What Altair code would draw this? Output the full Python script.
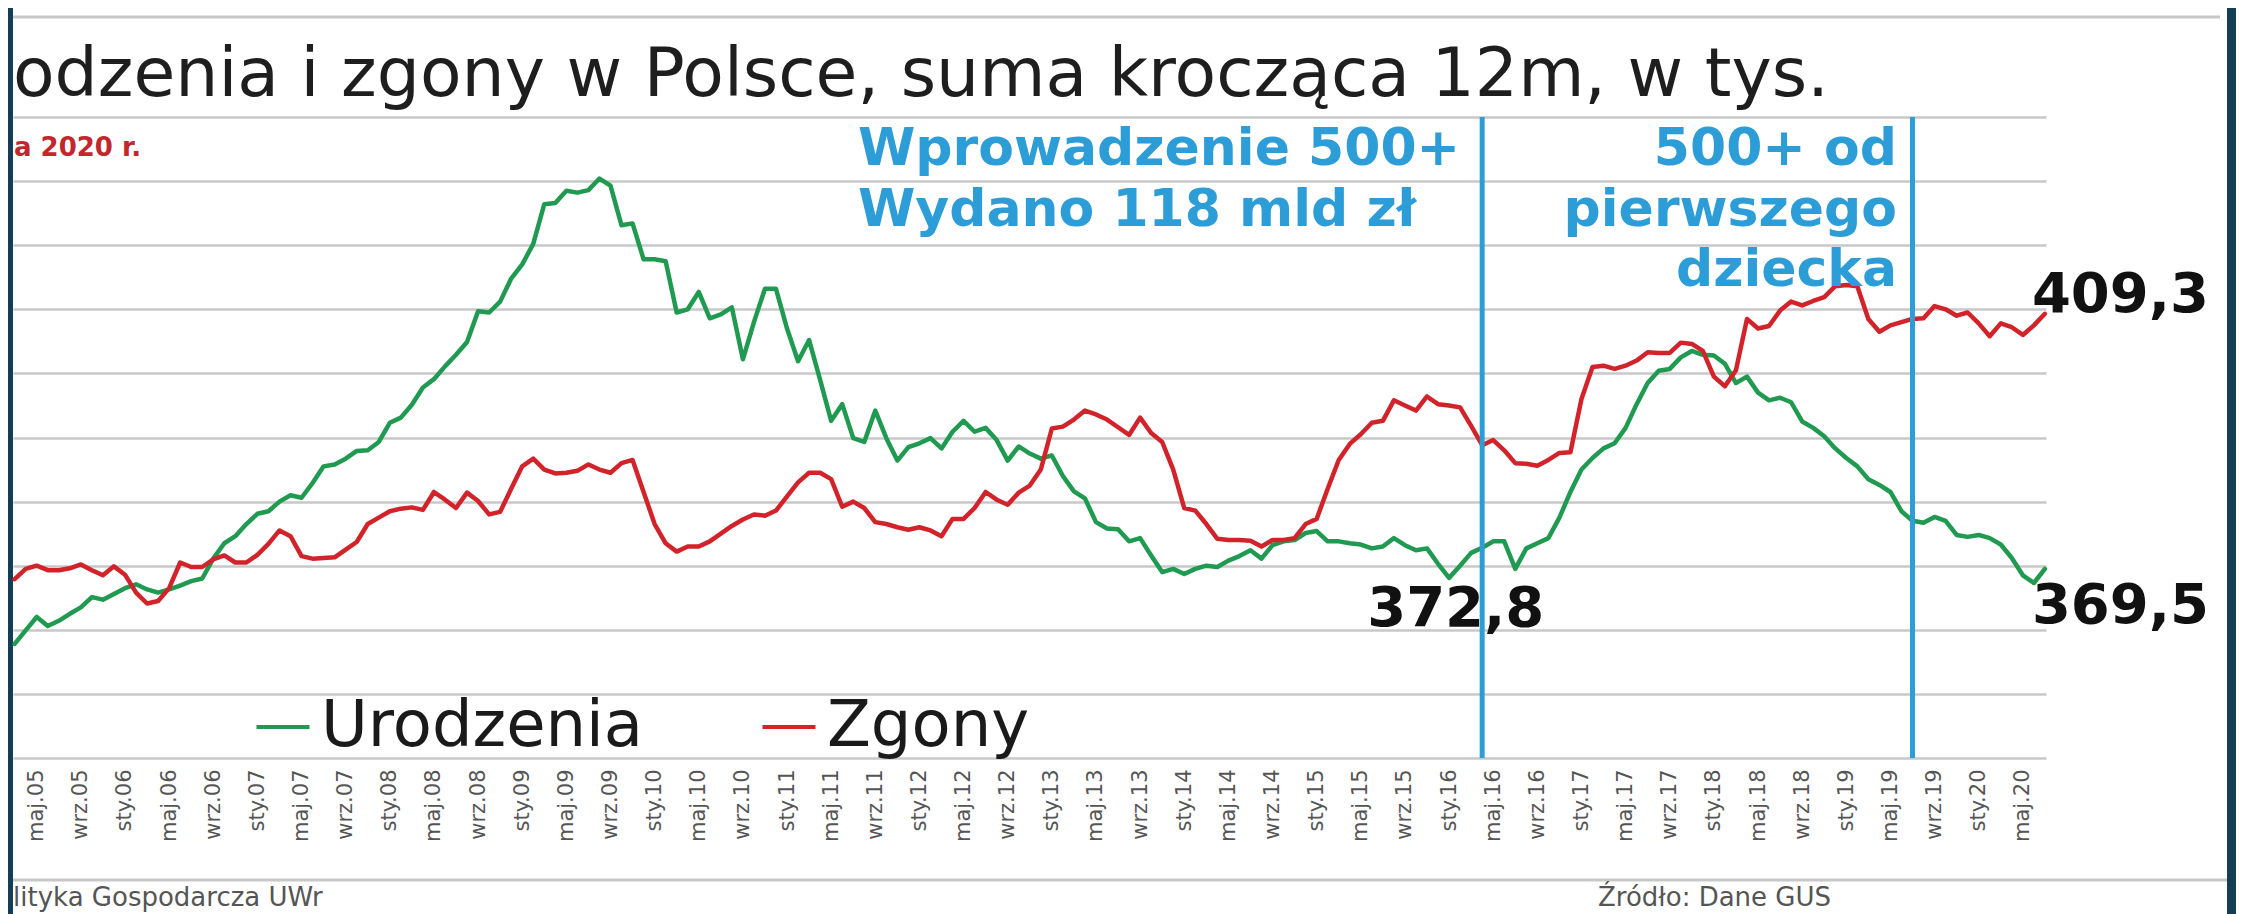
import json
import altair as alt
import pandas as pd

# ---------------- data ----------------
# month index: 0 = maj 2005; the series run from mar 2005 (-2) to lip 2020 (182)
months = list(range(-2, 183))

urodzenia = [
    357.8, 359.9, 362.0, 360.6, 361.4, 362.5, 363.5, 365.1, 364.7, 365.6, 366.5, 367.1,
    366.3, 365.8, 366.3, 366.9, 367.6, 368.0, 371.1, 373.5, 374.6, 376.5, 378.1, 378.5,
    380.0, 381.0, 380.6, 382.9, 385.5, 385.8, 386.7, 387.9, 388.0, 389.3, 392.3, 393.1,
    395.1, 397.8, 399.1, 401.1, 402.9, 404.9, 409.7, 409.5, 411.2, 414.8, 417.0, 420.2,
    426.4, 426.6, 428.5, 428.2, 428.6, 430.4, 429.3, 423.1, 423.4, 417.8, 417.8, 417.5,
    409.5, 410.0, 412.7, 408.6, 409.2, 410.3, 402.2, 408.0, 413.2, 413.2, 407.0, 401.9,
    405.2, 399.0, 392.6, 395.2, 389.9, 389.3, 394.2, 389.9, 386.4, 388.5, 389.1, 389.9,
    388.3, 390.9, 392.6, 390.9, 391.5, 389.6, 386.4, 388.6, 387.5, 386.7, 387.2, 384.0,
    381.6, 380.5, 376.8, 375.8, 375.7, 373.8, 374.3, 371.6, 369.0, 369.5, 368.7, 369.5,
    370.0, 369.8, 370.8, 371.5, 372.4, 371.1, 373.2, 373.8, 374.0, 375.1, 375.4, 373.8,
    373.8, 373.5, 373.3, 372.7, 373.0, 374.3, 373.2, 372.4, 372.7, 370.3, 368.1, 370.0,
    372.0, 372.8, 373.8, 373.8, 369.5, 372.7, 373.5, 374.3, 377.5, 381.5, 385.0, 386.8,
    388.3, 389.1, 391.5, 395.2, 398.5, 400.4, 400.7, 402.5, 403.5, 402.9, 402.8, 401.5,
    398.5, 399.5, 397.0, 395.8, 396.2, 395.5, 392.5, 391.5, 390.2, 388.3, 386.8, 385.5,
    383.5, 382.6, 381.5, 378.5, 377.0, 376.7, 377.6, 377.0, 374.8, 374.5, 374.8, 374.3,
    373.3, 371.2, 368.5, 367.3, 369.5,
]

zgony = [
    367.9, 369.5, 370.0, 369.3, 369.3, 369.6, 370.2, 369.3, 368.5, 369.9, 368.6, 365.8,
    364.1, 364.5, 366.5, 370.5, 369.8, 369.8, 371.0, 371.6, 370.5, 370.5, 371.7, 373.4,
    375.5, 374.6, 371.5, 371.1, 371.2, 371.3, 372.5, 373.7, 376.5, 377.5, 378.5, 378.9,
    379.1, 378.7, 381.5, 380.3, 379.0, 381.4, 380.1, 378.0, 378.4, 382.0, 385.5, 386.7,
    385.0, 384.4, 384.5, 384.8, 385.8, 385.0, 384.5, 386.0, 386.5, 381.5, 376.5, 373.5,
    372.2, 373.0, 373.0, 373.8, 375.0, 376.2, 377.2, 378.0, 377.8, 378.6, 380.8, 383.0,
    384.5, 384.5, 383.5, 379.2, 380.0, 379.0, 376.8, 376.5, 376.0, 375.6, 376.0, 375.5,
    374.6, 377.3, 377.3, 379.0, 381.5, 380.3, 379.5, 381.4, 382.5, 385.0, 391.4, 391.7,
    392.8, 394.2, 393.6, 392.8, 391.6, 390.4, 393.1, 390.7, 389.3, 385.0, 379.0, 378.6,
    376.5, 374.2, 374.0, 374.0, 373.9, 373.0, 374.0, 374.0, 374.3, 376.5, 377.3, 382.0,
    386.5, 389.0, 390.5, 392.3, 392.6, 395.8, 395.0, 394.2, 396.4, 395.2, 395.0, 394.7,
    391.8, 388.8, 389.6, 388.0, 386.0, 385.9, 385.6, 386.5, 387.6, 387.7, 396.0, 401.0,
    401.2, 400.7, 401.2, 402.0, 403.3, 403.2, 403.2, 404.8, 404.6, 403.5, 399.5, 398.0,
    400.5, 408.5, 407.0, 407.4, 409.8, 411.2, 410.6, 411.3, 411.9, 413.6, 413.8, 413.6,
    408.5, 406.5, 407.5, 408.0, 408.5, 408.6, 410.5, 410.0, 409.0, 409.5, 407.8, 405.8,
    407.8, 407.2, 406.0, 407.5, 409.3,
]

tick_labels = [
    "maj.05", "wrz.05",
    "sty.06", "maj.06", "wrz.06", "sty.07", "maj.07", "wrz.07",
    "sty.08", "maj.08", "wrz.08", "sty.09", "maj.09", "wrz.09",
    "sty.10", "maj.10", "wrz.10", "sty.11", "maj.11", "wrz.11",
    "sty.12", "maj.12", "wrz.12", "sty.13", "maj.13", "wrz.13",
    "sty.14", "maj.14", "wrz.14", "sty.15", "maj.15", "wrz.15",
    "sty.16", "maj.16", "wrz.16", "sty.17", "maj.17", "wrz.17",
    "sty.18", "maj.18", "wrz.18", "sty.19", "maj.19", "wrz.19",
    "sty.20", "maj.20",
]
tick_months = [4 * k for k in range(len(tick_labels))]

series_names = ["Urodzenia", "Zgony"]
event_months = [131, 170]          # kwi.16 (500+), lip.19 (500+ od pierwszego dziecka)
callout_months = [131, 182, 182]
callout_values = [372.8, 369.5, 409.3]
callout_texts = ["372,8", "369,5", "409,3"]

title_text = "odzenia i zgony w Polsce, suma krocząca 12m, w tys."
subtitle_text = "a 2020 r."
event1_lines = ["Wprowadzenie 500+", "Wydano 118 mld zł"]
event2_lines = ["500+ od", "pierwszego", "dziecka"]
footer_left = "lityka Gospodarcza UWr"
footer_right = "Źródło: Dane GUS"

# ---------------- tables ----------------
df = pd.DataFrame({
    "miesiac": months * 2,
    "wartosc": urodzenia + zgony,
    "seria": [series_names[0]] * len(months) + [series_names[1]] * len(months),
})
ev_df = pd.DataFrame({"miesiac": event_months})

# ---------------- layout / style ----------------
W, H = 2033, 641
PAD = {"left": 5, "top": 109, "right": 190, "bottom": 156}
FONT = "DejaVu Sans"
BLUE = "#2c9dd6"
GRID = "#c8c8c8"

x_scale = alt.Scale(domain=[-2.15, 182.1], nice=False, zero=False)
y_scale = alt.Scale(domain=[340, 440], nice=False, zero=False)

x_axis = alt.Axis(
    values=tick_months,
    labelExpr=json.dumps(tick_labels) + "[round(datum.value / 4)]",
    labelAngle=270, labelFont=FONT, labelFontSize=21, labelColor="#555555",
    labelPadding=11, ticks=False, domain=False, grid=False,
    labelOverlap=False, labelFlush=False, title=None,
)
y_axis = alt.Axis(
    values=list(range(340, 441, 10)), labels=False, ticks=False, domain=False,
    grid=True, gridColor=GRID, gridWidth=2.5, title=None,
)
X = alt.X("miesiac:Q", scale=x_scale, axis=x_axis)
Y = alt.Y("wartosc:Q", scale=y_scale, axis=y_axis)

one = pd.DataFrame({"k": [0]})


def note(text, x, y, size, color, weight="normal", align="left", baseline="middle"):
    return alt.Chart(one).mark_text(
        text=text, font=FONT, fontSize=size, color=color, fontWeight=weight,
        align=align, baseline=baseline,
    ).encode(x=alt.value(x), y=alt.value(y))


def strip(x, x2, y, y2, color):
    return alt.Chart(one).mark_rect(color=color).encode(
        x=alt.value(x), x2=alt.value(x2), y=alt.value(y), y2=alt.value(y2))


def hline(x, x2, y):
    return alt.Chart(one).mark_rule(color=GRID, strokeWidth=3).encode(
        x=alt.value(x), x2=alt.value(x2), y=alt.value(y))


frame = "#143e58"
frame_l = strip(-5, 0, -109, H + 156, frame)
frame_r = strip(2214, 2223, -109, H + 156, frame)
top_line = hline(0, 2207, -100)
foot_line = hline(0, 2214, 763)

lines = alt.Chart(df).mark_line(strokeWidth=4.5, strokeJoin="round", strokeCap="round").encode(
    x=X, y=Y,
    color=alt.Color(
        "seria:N",
        scale=alt.Scale(domain=series_names, range=["#1f9a50", "#d2232a"]),
        legend=alt.Legend(
            orient="none", legendX=238, legendY=578, direction="horizontal", title=None,
            symbolType="stroke", symbolSize=2809, symbolStrokeWidth=4,
            labelFont=FONT, labelFontSize=64, labelColor="#1a1a1a", labelOffset=6,
            labelLimit=1000, columnPadding=110, padding=0,
        ),
    ),
)

rules = alt.Chart(ev_df).mark_rule(color=BLUE, strokeWidth=5).encode(x=X)

co = pd.DataFrame({"miesiac": callout_months, "wartosc": callout_values, "etykieta": callout_texts})
callout_style = dict(font=FONT, fontSize=56, fontWeight="bold", color="#111111", align="left", baseline="middle")
call_mid = alt.Chart(co.iloc[[0]]).mark_text(dx=-115, dy=61, **callout_style).encode(x=X, y=Y, text="etykieta:N")
call_low = alt.Chart(co.iloc[[1]]).mark_text(dx=-13, dy=37, **callout_style).encode(x=X, y=Y, text="etykieta:N")
call_high = alt.Chart(co.iloc[[2]]).mark_text(dx=-13, dy=-19, **callout_style).encode(x=X, y=Y, text="etykieta:N")

texts = [
    note(title_text, 0, -21, 68, "#1e1e1e", baseline="alphabetic"),
    note(subtitle_text, 1, 31, 26, "#c1272d", weight="bold"),
    note(event1_lines[0], 845, 32, 52, BLUE, weight="bold"),
    note(event1_lines[1], 845, 93, 52, BLUE, weight="bold"),
    note(event2_lines[0], 1884, 32, 52, BLUE, weight="bold", align="right"),
    note(event2_lines[1], 1884, 93, 52, BLUE, weight="bold", align="right"),
    note(event2_lines[2], 1884, 153, 52, BLUE, weight="bold", align="right"),
    note(footer_left, 0, 781, 26, "#555555"),
    note(footer_right, 1585, 781, 26, "#555555"),
]

chart = alt.layer(
    frame_l, frame_r, top_line, foot_line,
    lines, call_mid, call_low, call_high, rules, *texts,
).properties(
    width=W, height=H,
    autosize=alt.AutoSizeParams(type="none"),
    padding=PAD,
    background="white",
).configure_view(stroke=None)

chart.save("out.html", embed_options={"renderer": "svg", "actions": False})
